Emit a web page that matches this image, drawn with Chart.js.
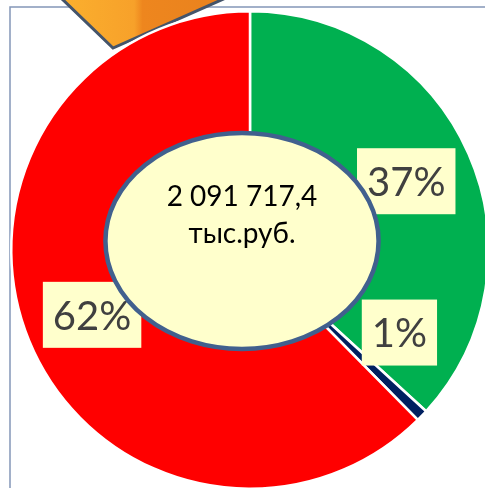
<!DOCTYPE html>
<html>
<head>
<meta charset="utf-8">
<script src="https://cdn.jsdelivr.net/npm/chart.js@4.4.0/dist/chart.umd.min.js"></script>
<style>
  html, body { margin: 0; padding: 0; background: #fff; overflow: hidden; }
  #wrap { width: 485px; height: 488px; overflow: hidden; position: relative; }
  canvas { position: absolute; left: 0; top: 0; }
</style>
</head>
<body>
<div id="wrap"><canvas id="pie" width="500" height="500"></canvas></div>
<script>
// shares of the total, percent
var segments = ['Сегмент 1', 'Сегмент 2', 'Сегмент 3'];
var shares = [36.8, 0.8, 62.4];
var sliceColors = ['#00B050', '#002060', '#FF0000'];
var totalText = ['2 091 717,4', 'тыс.руб.'];

// decoration behind the pie: frame lines + orange shape at the top
var backdrop = {
    id: 'backdrop',
    beforeDatasetsDraw: function (chart) {
        var ctx = chart.ctx;
        ctx.save();
        ctx.strokeStyle = '#8497B8';
        ctx.lineWidth = 1.5;
        ctx.beginPath();
        ctx.moveTo(10, 500);
        ctx.lineTo(10, 7);
        ctx.lineTo(500, 7);
        ctx.stroke();

        var g = ctx.createLinearGradient(60, 0, 225, 0);
        g.addColorStop(0, '#FBB02E');
        g.addColorStop(0.45, '#F7A12A');
        g.addColorStop(0.5, '#EE861E');
        g.addColorStop(1, '#E9821E');
        ctx.fillStyle = g;
        ctx.beginPath();
        ctx.moveTo(60, -3);
        ctx.lineTo(113, 48);
        ctx.lineTo(228, -3);
        ctx.closePath();
        ctx.fill();
        ctx.strokeStyle = '#44546A';
        ctx.lineWidth = 3;
        ctx.stroke();
        ctx.restore();
    }
};

// percent boxes + center ellipse
var labelsAndCenter = {
    id: 'labelsAndCenter',
    afterDatasetsDraw: function (chart, args, opts) {
        var ctx = chart.ctx;
        var meta = chart.getDatasetMeta(0);
        var sum = shares.reduce(function (a, b) { return a + b; }, 0);
        ctx.save();
        meta.data.forEach(function (arc, i) {
            var p = arc.getProps(['x', 'y', 'startAngle', 'endAngle', 'outerRadius'], true);
            var mid = (p.startAngle + p.endAngle) / 2 + (opts.shift[i] || 0) * Math.PI / 180;
            var r = p.outerRadius * 0.715;
            var x = p.x + Math.cos(mid) * r;
            var y = p.y + Math.sin(mid) * r;
            var txt = Math.round(shares[i] / sum * 100) + '%';
            ctx.font = '40px Lato';
            var w = ctx.measureText(txt).width + 20;
            var h = 66;
            ctx.fillStyle = '#FFFFCC';
            ctx.fillRect(x - w / 2, y - h / 2, w, h);
            ctx.fillStyle = '#404040';
            ctx.textAlign = 'center';
            ctx.textBaseline = 'middle';
            ctx.fillText(txt, x, y + 2);
        });

        var c = meta.data[0];
        var R = c.outerRadius;
        var ex = c.x - 8, ey = c.y - 9;
        ctx.beginPath();
        ctx.ellipse(ex, ey, R * 0.572, R * 0.452, 0, 0, Math.PI * 2);
        ctx.fillStyle = '#FFFFCC';
        ctx.fill();
        ctx.lineWidth = 4.5;
        ctx.strokeStyle = '#41608E';
        ctx.stroke();

        ctx.fillStyle = '#000';
        ctx.font = '28px Lato';
        ctx.textAlign = 'center';
        ctx.textBaseline = 'middle';
        ctx.fillText(totalText[0], ex, ey - 44);
        ctx.fillText(totalText[1], ex, ey - 7);
        ctx.restore();
    }
};

new Chart(document.getElementById('pie').getContext('2d'), {
    type: 'pie',
    data: {
        labels: segments,
        datasets: [{
            data: shares,
            backgroundColor: sliceColors,
            borderColor: '#FFFFFF',
            borderWidth: 2.5
        }]
    },
    options: {
        responsive: false,
        animation: false,
        layout: { padding: 10 },
        plugins: {
            legend: { display: false },
            tooltip: { enabled: false },
            labelsAndCenter: { shift: [0, -15, 0] }
        }
    },
    plugins: [backdrop, labelsAndCenter]
});
</script>
</body>
</html>
